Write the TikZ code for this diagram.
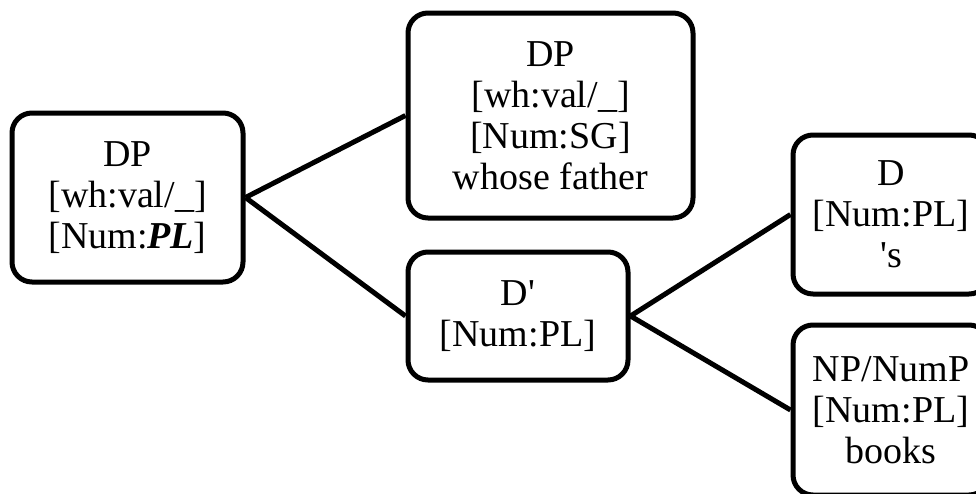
\documentclass[tikz,border=0pt]{standalone}
\usepackage{fontspec}
\setmainfont{Liberation Serif}
\tikzstyle{cat}=[draw,line width=5pt,rounded corners=20pt,align=center,inner sep=0pt,font=\fontsize{38}{41}\selectfont]
\tikzstyle{branch}=[line width=5pt]
\begin{document}
\begin{tikzpicture}[x=1pt,y=-1pt]
                    \useasboundingbox (0,0) rectangle (976,493);
                    \clip (0,0) rectangle (976,493);

                    \node (dp) at (127.5,197.5) [cat,minimum width=231pt,minimum height=169pt] {DP\\{}[wh:val/\_]\\{}[Num:\textbf{\textit{PL}}]};
                    \node (spec) at (550.5,115.5) [cat,minimum width=285pt,minimum height=205pt] {DP\\{}[wh:val/\_]\\{}[Num:SG]\\whose father};
                    \node (dbar) at (518,316) [cat,minimum width=220pt,minimum height=128pt] {D\textquotesingle\\{}[Num:PL]};
                    \node (dhead) at (891,214.5) [cat,minimum width=196pt,minimum height=159pt] {D\\{}[Num:PL]\\\textquotesingle s};
                    \node (np) at (891,410) [cat,minimum width=196pt,minimum height=170pt] {NP/NumP\\{}[Num:PL]\\books};

                    \draw [branch] (dp.east) -- (spec.west);
                    \draw [branch] (dp.east) -- (dbar.west);

                    \draw [branch] (dbar.east) -- (dhead.west);
                    \draw [branch] (dbar.east) -- (np.west);
                \end{tikzpicture}
\end{document}
